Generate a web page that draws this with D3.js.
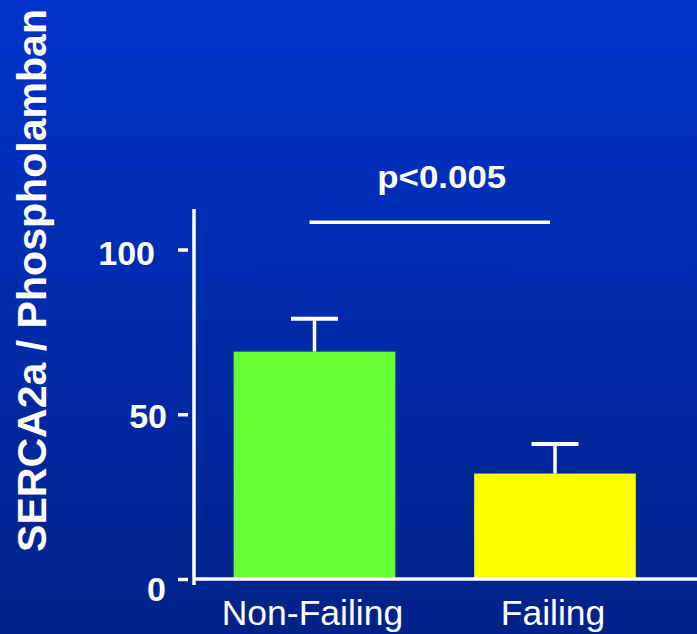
<!DOCTYPE html>
<html>
<head>
<meta charset="utf-8">
<script src="https://cdn.jsdelivr.net/npm/d3@7"></script>
<style>
  html, body { margin: 0; padding: 0; background: #002a9e; }
  svg { display: block; }
  text { font-family: "Liberation Sans", Arial, Helvetica, sans-serif; fill: #ffffff; }
</style>
</head>
<body>
<svg id="chart" width="697" height="634"></svg>
<script>
// SERCA2a / phospholamban ratio, non-failing vs failing myocardium
const categories = ["Non-Failing", "Failing"];
const means = [69, 32];
const errorTops = [79, 41];
const barColors = ["#66ff33", "#ffff00"];
const yTicks = [0, 50, 100];
const yTitle = "SERCA2a / Phospholamban";
const pLabel = "p<0.005";
const bracketLevel = 108.3;
const axisTopValue = 112.3;

const W = 697, H = 634;
const svg = d3.select("#chart");

// background gradient
const defs = svg.append("defs");
const grad = defs.append("linearGradient")
  .attr("id", "bg").attr("x1", 0).attr("y1", 0).attr("x2", 0).attr("y2", 1);
grad.append("stop").attr("offset", "0%").attr("stop-color", "#0033cc");
grad.append("stop").attr("offset", "100%").attr("stop-color", "#002288");
svg.append("rect").attr("width", W).attr("height", H).attr("fill", "url(#bg)");

// scales
const axisX = 194;
const y = d3.scaleLinear().domain([0, 100]).range([579, 249.5]);
const x = d3.scaleBand().domain(categories)
  .range([axisX, 675.5]).paddingInner(0.328).paddingOuter(0.165);

const data = categories.map((c, i) => ({ cat: c, mean: means[i], top: errorTops[i], color: barColors[i] }));

// bars
svg.append("g").selectAll("rect").data(data).join("rect")
  .attr("x", d => x(d.cat))
  .attr("y", d => y(d.mean))
  .attr("width", x.bandwidth())
  .attr("height", d => y(0) - y(d.mean))
  .attr("fill", d => d.color);

// error bars (upper whisker only)
const capHalf = 23.5;
const eb = svg.append("g").attr("stroke", "#ffffff");
eb.selectAll("line.stem").data(data).join("line").attr("class", "stem")
  .attr("x1", d => x(d.cat) + x.bandwidth() / 2)
  .attr("x2", d => x(d.cat) + x.bandwidth() / 2)
  .attr("y1", d => y(d.mean))
  .attr("y2", d => y(d.top))
  .attr("stroke-width", 3.5);
eb.selectAll("line.cap").data(data).join("line").attr("class", "cap")
  .attr("x1", d => x(d.cat) + x.bandwidth() / 2 - capHalf)
  .attr("x2", d => x(d.cat) + x.bandwidth() / 2 + capHalf)
  .attr("y1", d => y(d.top))
  .attr("y2", d => y(d.top))
  .attr("stroke-width", 4);

// y axis: detached short tick dashes plus a separate axis line
const yAxis = d3.axisLeft(y).tickValues(yTicks).tickSize(10).tickPadding(23)
  .tickFormat(d3.format("d"));
const gy = svg.append("g").attr("transform", `translate(${axisX - 6},0)`).call(yAxis);
gy.select(".domain").remove();
gy.selectAll(".tick line").attr("stroke", "#ffffff").attr("stroke-width", 3.5);
gy.selectAll(".tick text")
  .attr("fill", "#ffffff")
  .style("font-size", "34px").style("font-weight", "bold")
  .attr("dy", "0.72em")
  .attr("y", -9);
gy.selectAll(".tick").filter(d => d === 0).select("text")
  .attr("x", -22).attr("y", -3);
gy.selectAll(".tick").filter(d => d === 50).select("text")
  .attr("x", -21).attr("y", -11);

// axis lines
svg.append("line")
  .attr("x1", axisX).attr("x2", axisX)
  .attr("y1", y(axisTopValue)).attr("y2", y(0) + 6)
  .attr("stroke", "#ffffff").attr("stroke-width", 3.5);
svg.append("line")
  .attr("x1", axisX).attr("x2", W)
  .attr("y1", y(0)).attr("y2", y(0))
  .attr("stroke", "#ffffff").attr("stroke-width", 3.5);

// category labels
svg.append("g").selectAll("text").data(categories).join("text")
  .attr("x", d => x(d) + x.bandwidth() / 2 - 2)
  .attr("y", 625)
  .attr("text-anchor", "middle")
  .style("font-size", "35.5px")
  .text(d => d);

// significance bracket
const c0 = x(categories[0]) + x.bandwidth() / 2;
const c1 = x(categories[1]) + x.bandwidth() / 2;
svg.append("line")
  .attr("x1", c0 - 5).attr("x2", c1 - 5)
  .attr("y1", y(bracketLevel)).attr("y2", y(bracketLevel))
  .attr("stroke", "#ffffff").attr("stroke-width", 3.5);
svg.append("text")
  .attr("x", (c0 + c1) / 2 + 7)
  .attr("y", 187.5)
  .attr("text-anchor", "middle")
  .attr("textLength", 129).attr("lengthAdjust", "spacingAndGlyphs")
  .style("font-size", "31px").style("font-weight", "bold")
  .text(pLabel);

// y-axis title
svg.append("text")
  .attr("transform", "translate(46,280.5) rotate(-90)")
  .attr("text-anchor", "middle")
  .attr("textLength", 543).attr("lengthAdjust", "spacingAndGlyphs")
  .style("font-size", "40px").style("font-weight", "bold")
  .text(yTitle);
</script>
</body>
</html>
